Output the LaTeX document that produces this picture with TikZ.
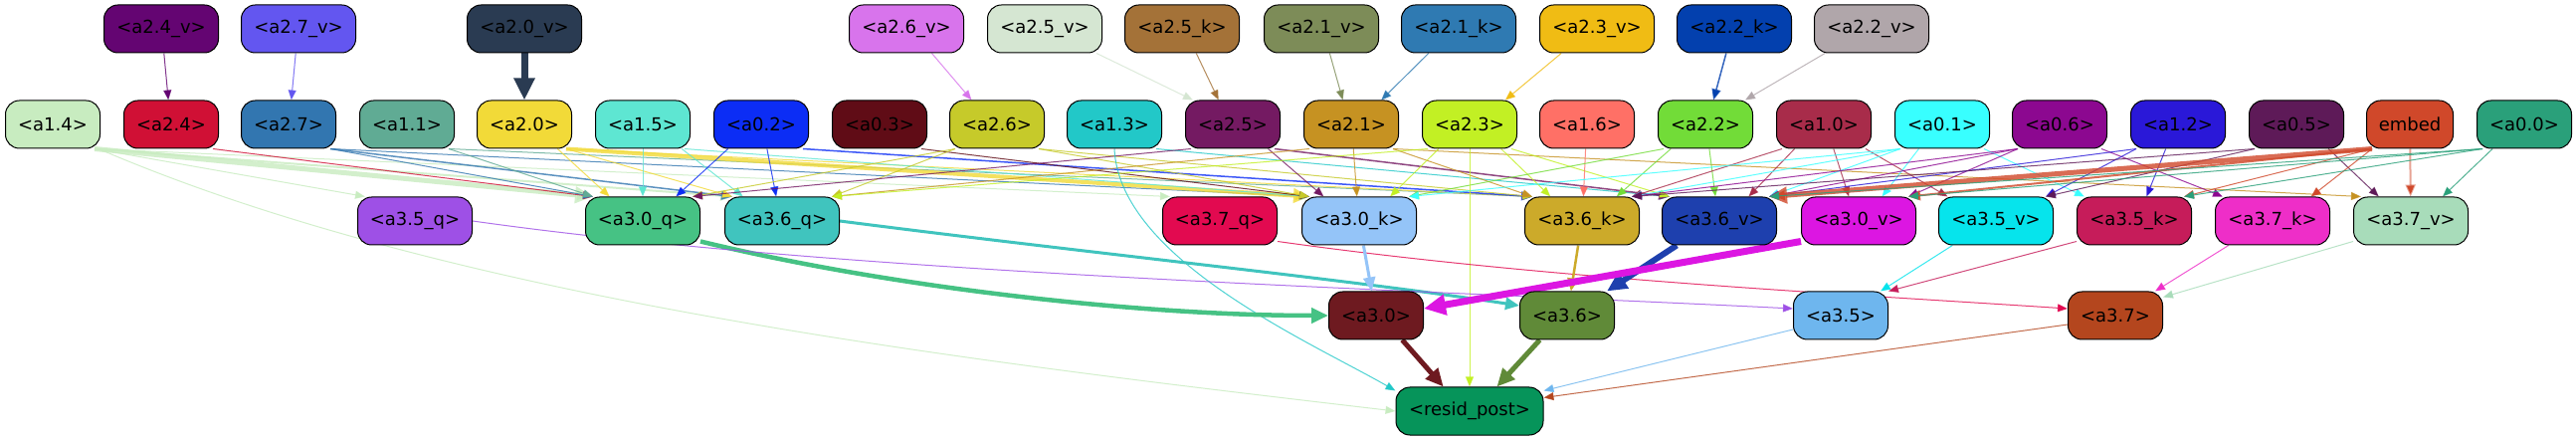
\documentclass[tikz,border=0pt]{standalone}
\usepackage{fontspec}
\setmainfont{DejaVu Sans}
\usetikzlibrary{arrows.meta,calc}
\pgfdeclarelayer{bg}
\pgfsetlayers{bg,main}
% node colours
\definecolor{c24v}{HTML}{640572}
\definecolor{c27v}{HTML}{6356F0}
\definecolor{c20v}{HTML}{2A3B52}
\definecolor{c26v}{HTML}{D874EC}
\definecolor{c25v}{HTML}{D5E6D2}
\definecolor{c25k}{HTML}{A47238}
\definecolor{c21v}{HTML}{7D8C58}
\definecolor{c21k}{HTML}{2F7AB2}
\definecolor{c23v}{HTML}{F0BC14}
\definecolor{c22k}{HTML}{0340AE}
\definecolor{c22v}{HTML}{B0A6AA}
\definecolor{c14}{HTML}{C8ECC0}
\definecolor{c24}{HTML}{D01035}
\definecolor{c27}{HTML}{3276B0}
\definecolor{c11}{HTML}{60AB94}
\definecolor{c20}{HTML}{F2DA38}
\definecolor{c15}{HTML}{5EE6D2}
\definecolor{c02}{HTML}{0C2DF5}
\definecolor{c03}{HTML}{600C16}
\definecolor{c26}{HTML}{C6CA2A}
\definecolor{c13}{HTML}{22C8C8}
\definecolor{c25}{HTML}{741A62}
\definecolor{c21}{HTML}{C69222}
\definecolor{c23}{HTML}{C2F024}
\definecolor{c16}{HTML}{FF7066}
\definecolor{c22}{HTML}{72DC38}
\definecolor{c10}{HTML}{A82C4A}
\definecolor{c01}{HTML}{38FFFF}
\definecolor{c06}{HTML}{8C0890}
\definecolor{c12}{HTML}{2A18D8}
\definecolor{c05}{HTML}{5E1A58}
\definecolor{cemb}{HTML}{D0482A}
\definecolor{c00}{HTML}{2AA07A}
\definecolor{cq35}{HTML}{9E50E6}
\definecolor{cq30}{HTML}{46C284}
\definecolor{cq36}{HTML}{40C4BE}
\definecolor{cq37}{HTML}{E20A50}
\definecolor{ck30}{HTML}{94C4F8}
\definecolor{ck36}{HTML}{CCAA2A}
\definecolor{cv36}{HTML}{1E40AE}
\definecolor{cv30}{HTML}{DC16E2}
\definecolor{cv35}{HTML}{06E4EC}
\definecolor{ck35}{HTML}{C61C5A}
\definecolor{ck37}{HTML}{EE2EC8}
\definecolor{cv37}{HTML}{A8DCBA}
\definecolor{cm30}{HTML}{6E1A20}
\definecolor{cm36}{HTML}{608A38}
\definecolor{cm35}{HTML}{6EB6EE}
\definecolor{cm37}{HTML}{B4461E}
\definecolor{cres}{HTML}{06945A}
\tikzset{
  nd/.style={draw=black, line width=1pt, rounded corners=14pt, minimum height=48pt,
    minimum width=95pt, inner sep=0pt, font=\fontsize{18}{21}\selectfont, text=black},
  qk/.style={nd, minimum width=115pt},
  ar/.style={-{Triangle[length=8pt 2,width=6pt 2]}},
  ed/.style={draw=#1, line width=1pt, ar, draw opacity=0.8},
}
\newcommand{\E}[4][]{%
  \draw[ed=#2,#1] let \p1=(#3.center), \p2=(#4.center), \p3=(#3.east), \p4=(#4.east),
    \n3={\x3-\x1-6}, \n4={\x4-\x2-8},
    \n1={max(-\n3,min(\n3,(\x2-\x1)*0.28))},
    \n2={max(-\n4,min(\n4,(\x1-\x2)*0.28))} in
    ($(#3.south)+(\n1,0)$) -- ($(#4.north)+(\n2,0)$);}
\begin{document}
\begin{tikzpicture}[x=1pt,y=1pt]
\useasboundingbox (0,0) rectangle (2589,-443);
% row 1
\node[qk, fill=c24v] (v24) at (162,-29) {<a2.4\_v>};
\node[qk, fill=c27v] (v27) at (300,-29) {<a2.7\_v>};
\node[qk, fill=c20v] (v20) at (527,-29) {<a2.0\_v>};
\node[qk, fill=c26v] (v26) at (911,-29) {<a2.6\_v>};
\node[qk, fill=c25v] (v25) at (1050,-29) {<a2.5\_v>};
\node[qk, fill=c25k] (k25) at (1188,-29) {<a2.5\_k>};
\node[qk, fill=c21v] (v21) at (1328,-29) {<a2.1\_v>};
\node[qk, fill=c21k] (k21) at (1466,-29) {<a2.1\_k>};
\node[qk, fill=c23v] (v23) at (1605,-29) {<a2.3\_v>};
\node[qk, fill=c22k] (k22) at (1743,-29) {<a2.2\_k>};
\node[qk, fill=c22v] (v22) at (1881,-29) {<a2.2\_v>};
% row 2
\node[nd, fill=c14] (n14) at (53,-125) {<a1.4>};
\node[nd, fill=c24] (n24) at (172,-125) {<a2.4>};
\node[nd, fill=c27] (n27) at (290,-125) {<a2.7>};
\node[nd, fill=c11] (n11) at (409,-125) {<a1.1>};
\node[nd, fill=c20] (n20) at (527,-125) {<a2.0>};
\node[nd, fill=c15] (n15) at (646,-125) {<a1.5>};
\node[nd, fill=c02] (n02) at (765,-125) {<a0.2>};
\node[nd, fill=c03] (n03) at (884,-125) {<a0.3>};
\node[nd, fill=c26] (n26) at (1002,-125) {<a2.6>};
\node[nd, fill=c13] (n13) at (1120,-125) {<a1.3>};
\node[nd, fill=c25] (n25) at (1239,-125) {<a2.5>};
\node[nd, fill=c21] (n21) at (1358,-125) {<a2.1>};
\node[nd, fill=c23] (n23) at (1477,-125) {<a2.3>};
\node[nd, fill=c16] (n16) at (1595,-125) {<a1.6>};
\node[nd, fill=c22] (n22) at (1714,-125) {<a2.2>};
\node[nd, fill=c10] (n10) at (1833,-125) {<a1.0>};
\node[nd, fill=c01] (n01) at (1952,-125) {<a0.1>};
\node[nd, fill=c06] (n06) at (2070,-125) {<a0.6>};
\node[nd, fill=c12] (n12) at (2189,-125) {<a1.2>};
\node[nd, fill=c05] (n05) at (2308,-125) {<a0.5>};
\node[nd, fill=cemb, minimum width=87pt] (emb) at (2422,-125) {embed};
\node[nd, fill=c00] (n00) at (2537,-125) {<a0.0>};
% row 3
\node[qk, fill=cq35] (q35) at (417,-222) {<a3.5\_q>};
\node[qk, fill=cq30] (q30) at (646,-222) {<a3.0\_q>};
\node[qk, fill=cq36] (q36) at (786,-222) {<a3.6\_q>};
\node[qk, fill=cq37] (q37) at (1226,-222) {<a3.7\_q>};
\node[qk, fill=ck30] (k30) at (1366,-222) {<a3.0\_k>};
\node[qk, fill=ck36] (k36) at (1590,-222) {<a3.6\_k>};
\node[qk, fill=cv36] (v36) at (1728,-222) {<a3.6\_v>};
\node[qk, fill=cv30] (v30) at (1868,-222) {<a3.0\_v>};
\node[qk, fill=cv35] (v35) at (2006,-222) {<a3.5\_v>};
\node[qk, fill=ck35] (k35) at (2145,-222) {<a3.5\_k>};
\node[qk, fill=ck37] (k37) at (2284,-222) {<a3.7\_k>};
\node[qk, fill=cv37] (v37) at (2423,-222) {<a3.7\_v>};
% row 4
\node[nd, fill=cm30] (m30) at (1383,-317) {<a3.0>};
\node[nd, fill=cm36] (m36) at (1575,-317) {<a3.6>};
\node[nd, fill=cm35] (m35) at (1850,-317) {<a3.5>};
\node[nd, fill=cm37] (m37) at (2126,-317) {<a3.7>};
% row 5
\node[nd, fill=cres, minimum width=148pt] (resid) at (1477,-413) {<resid\_post>};
\begin{pgfonlayer}{bg}
\fill[white] (0,0) rectangle (2589,-443);
% row 1 -> row 2
\E{c24v}{v24}{n24}
\E{c27v}{v27}{n27}
\E[line width=7pt,draw opacity=1]{c20v}{v20}{n20}
\E{c26v}{v26}{n26}
\E{c25v}{v25}{n25}
\E{c25k}{k25}{n25}
\E{c21v}{v21}{n21}
\E{c21k}{k21}{n21}
\E{c23v}{v23}{n23}
\E[line width=1.5pt]{c22k}{k22}{n22}
\E{c22v}{v22}{n22}
% row 2 -> row 3
\E[line width=5pt]{c14}{n14}{q30}
\E{c14}{n14}{q35}
\E{c14}{n14}{q37}
\E[line width=2pt]{c14}{n14}{q36}
\E{c24}{n24}{q30}
\E{c27}{n27}{q30}
\E[line width=1.5pt]{c27}{n27}{q36}
\E{c27}{n27}{k30}
\E{c11}{n11}{q30}
\E{c11}{n11}{k36}
\E{c20}{n20}{q30}
\E{c20}{n20}{q36}
\E[line width=4pt]{c20}{n20}{k30}
\E{c20}{n20}{k36}
\E{c15}{n15}{q30}
\E{c15}{n15}{q36}
\E{c15}{n15}{k30}
\E{c02}{n02}{q30}
\E{c02}{n02}{q36}
\E[line width=1.5pt]{c02}{n02}{k36}
\E{c03}{n03}{k30}
\E{c26}{n26}{q30}
\E{c26}{n26}{q36}
\E{c26}{n26}{k30}
\E{c26}{n26}{k36}
\E{c13}{n13}{v36}
\E{c25}{n25}{q30}
\E{c25}{n25}{k30}
\E[line width=1.5pt]{c25}{n25}{v36}
\E{c21}{n21}{k30}
\E{c21}{n21}{q36}
\E{c21}{n21}{k36}
\E{c21}{n21}{v37}
\E{c23}{n23}{k30}
\E{c23}{n23}{q36}
\E{c23}{n23}{v36}
\E{c23}{n23}{k36}
\E{c16}{n16}{k36}
\E{c22}{n22}{k30}
\E{c22}{n22}{k36}
\E{c22}{n22}{v36}
\E{c10}{n10}{k36}
\E{c10}{n10}{v36}
\E{c10}{n10}{v30}
\E{c10}{n10}{v35}
\E{c01}{n01}{k30}
\E{c01}{n01}{k36}
\E{c01}{n01}{v36}
\E{c01}{n01}{v30}
\E{c01}{n01}{k35}
\E{c06}{n06}{k36}
\E{c06}{n06}{v36}
\E{c06}{n06}{v30}
\E{c06}{n06}{k37}
\E{c12}{n12}{v36}
\E{c12}{n12}{v35}
\E{c12}{n12}{k35}
\E{c05}{n05}{k36}
\E{c05}{n05}{v35}
\E{c05}{n05}{v37}
\E[line width=5pt]{cemb}{emb}{v36}
\E[line width=2pt]{cemb}{emb}{v30}
\E{cemb}{emb}{k35}
\E{cemb}{emb}{k37}
\E[line width=2pt,draw opacity=0.5]{cemb}{emb}{v37}
\E{c00}{n00}{v36}
\E{c00}{n00}{v30}
\E{c00}{n00}{k35}
\E{c00}{n00}{v37}
% long edges to resid_post
\draw[ed=c14] ([xshift=-2pt]n14.south east) .. controls (450,-300) and (950,-360) .. (resid.west);
\draw[ed=c13] (n13.south) .. controls (1125,-260) and (1316,-343) .. ([yshift=-4pt]resid.north west);
\draw[ed=c23] (n23) -- (resid);
% row 3 -> row 4
\draw[ed=cq30, line width=4.5pt, draw opacity=1] ([yshift=4pt]q30.south east) .. controls (900,-290) and (1150,-317) .. (m30.west);
\draw[ed=cq36, line width=3pt, draw opacity=1] (q36.east) .. controls (1100,-255) and (1350,-280) .. ([yshift=10pt]m36.west);
\draw[ed=cq35] (q35.east) .. controls (850,-275) and (1400,-290) .. ([yshift=7pt]m35.west);
\draw[ed=cq37] ([yshift=4pt]q37.south east) .. controls (1550,-280) and (1850,-295) .. ([yshift=7pt]m37.west);
\draw[ed=ck30, line width=3pt, draw opacity=1] (k30) -- (m30);
\draw[ed=ck36, line width=2.5pt, draw opacity=1] (k36) -- (m36);
\E[line width=6pt,draw opacity=1]{cv36}{v36}{m36}
\draw[ed=cv30, line width=7pt, draw opacity=1] ([yshift=4pt]v30.south west) -- ([yshift=7pt]m30.east);
\E{cv35}{v35}{m35}
\draw[ed=ck35] ([yshift=4pt]k35.south west) -- (m35.north east);
\E{ck37}{k37}{m37}
\draw[ed=cv37] ([yshift=4pt]v37.south west) -- ([yshift=-6pt]m37.north east);
% row 4 -> resid_post
\E[line width=5pt,draw opacity=1]{cm30}{m30}{resid}
\E[line width=5pt,draw opacity=1]{cm36}{m36}{resid}
\draw[ed=cm35] ([yshift=-14pt]m35.west) -- ([yshift=-4pt]resid.north east);
\draw[ed=cm37] ([yshift=-9pt]m37.west) -- ([yshift=-11pt]resid.north east);
\end{pgfonlayer}
\end{tikzpicture}
\end{document}
